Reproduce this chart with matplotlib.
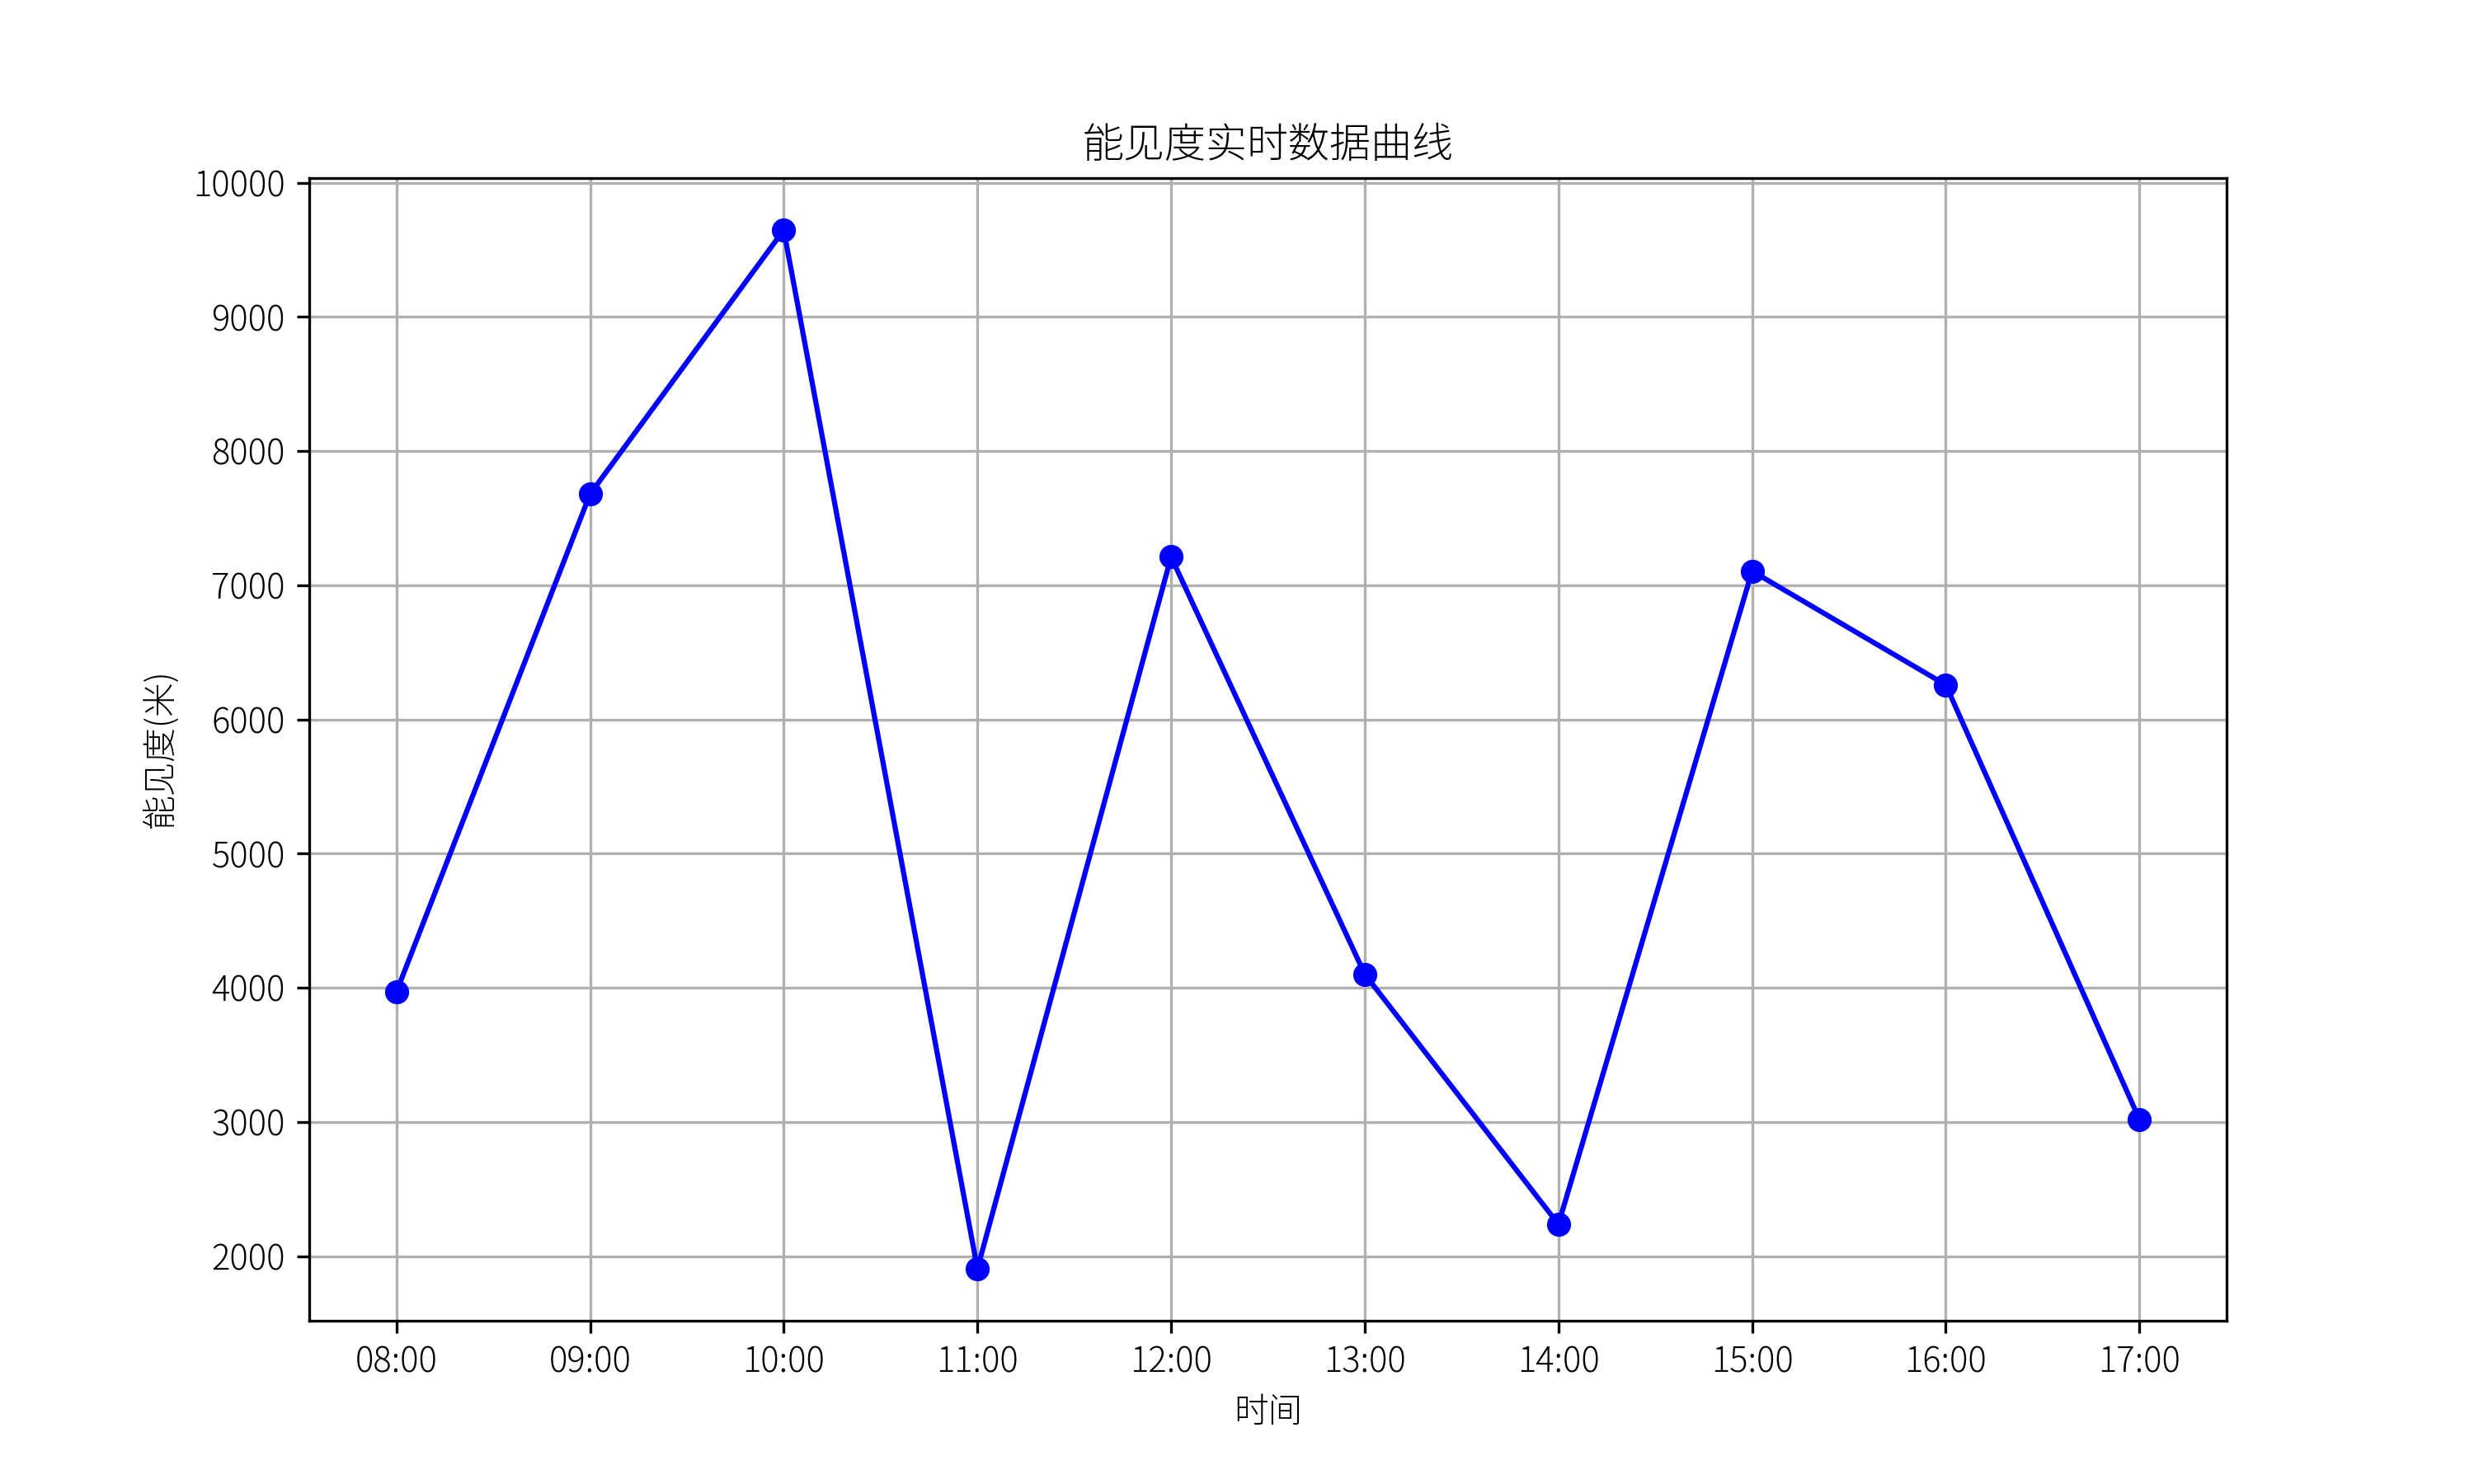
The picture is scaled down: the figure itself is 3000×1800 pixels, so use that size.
import matplotlib
matplotlib.use('Agg')
import matplotlib.pyplot as plt

plt.rcParams['font.family'] = ['Noto Sans CJK JP', 'DejaVu Sans']
plt.rcParams['font.weight'] = 300
plt.rcParams['axes.titleweight'] = 300
plt.rcParams['axes.labelweight'] = 300
plt.rcParams['axes.unicode_minus'] = False

times = ['08:00', '09:00', '10:00', '11:00', '12:00', '13:00', '14:00', '15:00', '16:00', '17:00']
visibility = [3969, 7680, 9648, 1906, 7212, 4102, 2238, 7106, 6258, 3019]

fig, ax = plt.subplots(figsize=(10, 6), dpi=300)
ax.plot(times, visibility, marker='o', linestyle='-', color='b')
ax.set_title('能见度实时数据曲线')
ax.set_xlabel('时间')
ax.set_ylabel('能见度(米)')
ax.grid(True)

fig.savefig('out.png')
